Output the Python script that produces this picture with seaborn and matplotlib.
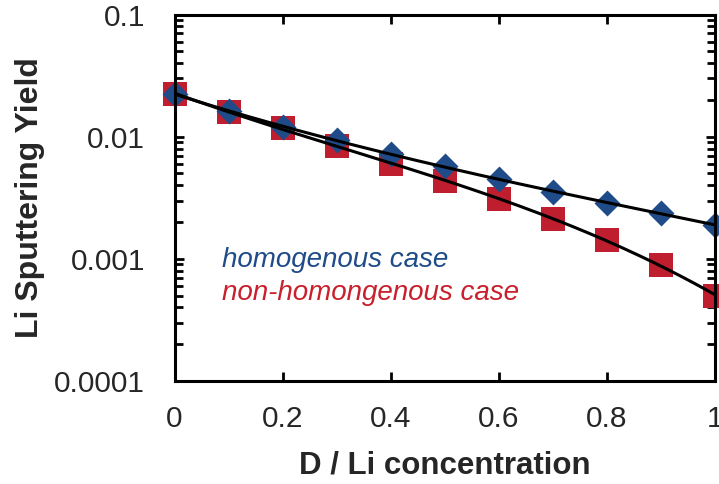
import numpy as np
import pandas as pd
import matplotlib
matplotlib.use("Agg")
import matplotlib.pyplot as plt
import seaborn as sns
from matplotlib.ticker import LogLocator, NullFormatter

# ---- data ----
concentration = [0.0, 0.1, 0.2, 0.3, 0.4, 0.5, 0.6, 0.7, 0.8, 0.9, 1.0]
yield_homogenous = [0.0225, 0.0162, 0.0119, 0.0094, 0.00718, 0.00575, 0.00449, 0.00354, 0.00285, 0.00236, 0.0019]
yield_nonhomogenous = [0.0225, 0.0160, 0.0117, 0.0084, 0.0060, 0.00436, 0.0031, 0.0021, 0.00143, 0.00089, 0.00050]
x_ticks = [0, 0.2, 0.4, 0.6, 0.8, 1.0]
x_tick_labels = ["0", "0.2", "0.4", "0.6", "0.8", "1"]
y_ticks = [0.1, 0.01, 0.001, 0.0001]
y_tick_labels = ["0.1", "0.01", "0.001", "0.0001"]
label_homogenous = "homogenous case"
label_nonhomogenous = "non-homongenous case"

sns.set_style("ticks")
plt.rcParams["font.family"] = ["Liberation Sans", "DejaVu Sans"]

BLUE = "#1F4C88"
RED = "#BE1E2D"
TXT = "#262626"

fig = plt.figure(figsize=(7.19, 4.84), dpi=100)
ax = fig.add_axes([0.2427, 0.2128, 0.7517, 0.7572])

df = pd.DataFrame({"x": concentration, "hom": yield_homogenous, "non": yield_nonhomogenous})

sns.scatterplot(data=df, x="x", y="non", marker="s", s=310, color=RED, linewidth=0,
                ax=ax, zorder=2, clip_on=False)
sns.scatterplot(data=df, x="x", y="hom", marker="D", s=175, color=BLUE, linewidth=0,
                ax=ax, zorder=3, clip_on=False)

# polynomial trendlines (fit in log space)
xf = np.linspace(0, 1, 200)
for col in ["hom", "non"]:
    c = np.polyfit(df["x"], np.log10(df[col]), 3)
    fit = pd.DataFrame({"x": xf, "y": 10 ** np.polyval(c, xf)})
    sns.lineplot(data=fit, x="x", y="y", color="black", linewidth=2.2, ax=ax, zorder=4)

ax.set_yscale("log")
ax.set_xlim(0, 1)
ax.set_ylim(0.0001, 0.1)
ax.set_xticks(x_ticks)
ax.set_xticklabels(x_tick_labels)
ax.set_yticks(y_ticks)
ax.set_yticklabels(y_tick_labels)
ax.yaxis.set_minor_locator(LogLocator(base=10, subs=np.arange(2, 10)))
ax.yaxis.set_minor_formatter(NullFormatter())

for sp in ax.spines.values():
    sp.set_visible(True)
    sp.set_linewidth(2.2)
    sp.set_color("black")
    sp.set_zorder(5)

ax.tick_params(axis="both", which="major", direction="in", length=6.5, width=2.0,
               top=True, right=True, labelsize=21.5, labelcolor=TXT, color="black")
ax.tick_params(axis="x", which="major", pad=17)
ax.tick_params(axis="y", which="major", pad=21)
ax.tick_params(axis="y", which="minor", direction="in", length=6, width=2.0,
               left=True, right=True, color="black")

ax.set_xlabel("D / Li concentration", fontsize=22.5, fontweight="bold", color=TXT, labelpad=13)
ax.set_ylabel("Li Sputtering Yield", fontsize=23, fontweight="bold", color=TXT, labelpad=7)

ax.text(0.088, 0.312, label_homogenous, transform=ax.transAxes, fontsize=20,
        style="italic", color=BLUE, ha="left", va="baseline")
ax.text(0.088, 0.221, label_nonhomogenous, transform=ax.transAxes, fontsize=20,
        style="italic", color="#C8202C", ha="left", va="baseline")

fig.savefig("out.png", dpi=100)
